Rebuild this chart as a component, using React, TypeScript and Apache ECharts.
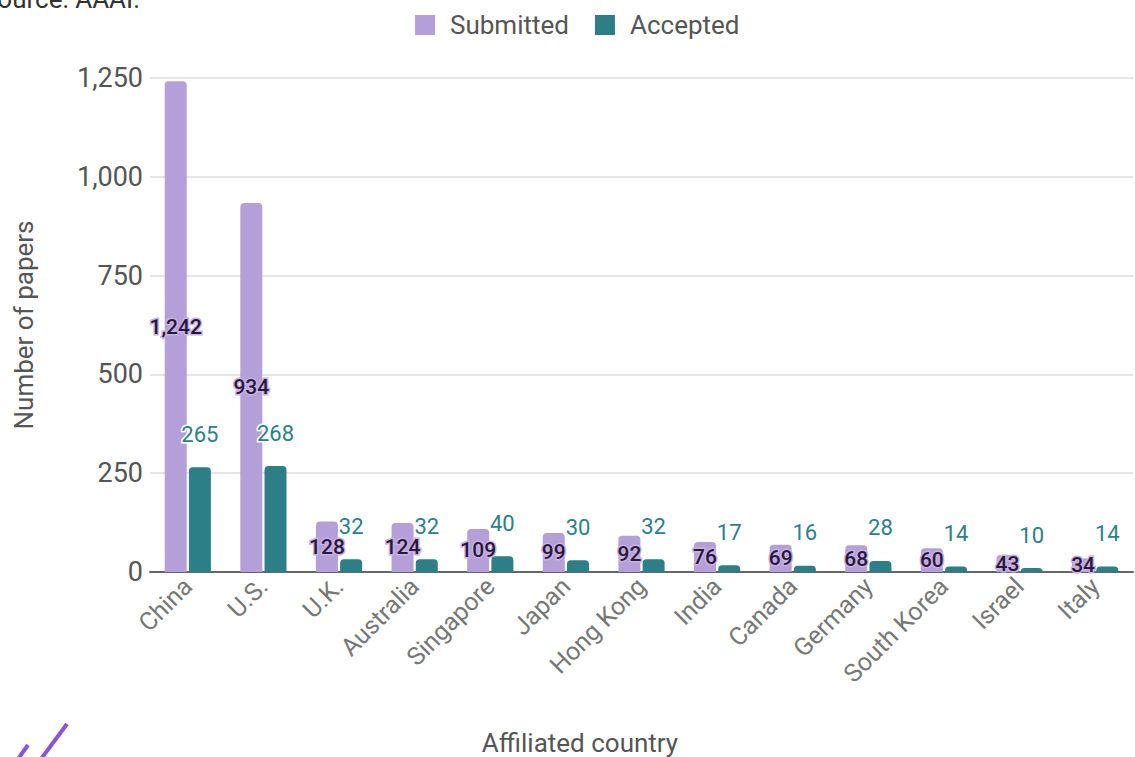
import React, { useEffect, useRef } from "react";
import * as echarts from "echarts";

const categories = ["China", "U.S.", "U.K.", "Australia", "Singapore", "Japan", "Hong Kong", "India", "Canada", "Germany", "South Korea", "Israel", "Italy"];
const submitted = [1242, 934, 128, 124, 109, 99, 92, 76, 69, 68, 60, 43, 34];
const accepted = [265, 268, 32, 32, 40, 30, 32, 17, 16, 28, 14, 10, 14];
const yTicks = [0, 250, 500, 750, 1000, 1250];

const FONT = "Roboto, 'Noto Sans', sans-serif";
const fmt = (v: number) => v.toLocaleString("en-US");

export default function App() {
  const ref = useRef<HTMLDivElement>(null);
  useEffect(() => {
    if (!ref.current) return;
    const chart = echarts.init(ref.current, null, { renderer: "svg" });
    chart.setOption({
      animation: false,
      backgroundColor: "#ffffff",
      textStyle: { fontFamily: FONT },
      legend: {
        top: 7,
        left: 410,
        itemWidth: 20,
        itemHeight: 20,
        itemGap: 26,
        icon: "rect",
        textStyle: { fontSize: 26, color: "#555", fontFamily: FONT, padding: [0, 0, 0, 10] },
        data: ["Submitted", "Accepted"],
      },
      grid: { left: 150, right: 2, top: 78, bottom: 185 },
      xAxis: {
        type: "category",
        data: categories,
        axisLine: { lineStyle: { color: "#666", width: 2 } },
        axisTick: { show: false },
        axisLabel: { rotate: 45, fontSize: 25, color: "#777", margin: 10, fontFamily: FONT },
      },
      yAxis: {
        type: "value",
        min: yTicks[0],
        max: yTicks[yTicks.length - 1],
        interval: 250,
        name: "Number of papers",
        nameLocation: "middle",
        nameGap: 113,
        nameTextStyle: { fontSize: 26, color: "#555", fontFamily: FONT },
        axisLine: { show: false },
        axisTick: { show: false },
        splitLine: { lineStyle: { color: "#dcdcdc", width: 1.5 } },
        axisLabel: { fontSize: 27, color: "#555", margin: 7, formatter: (v: number) => fmt(v), fontFamily: FONT },
      },
      series: [
        {
          name: "Submitted",
          type: "bar",
          data: submitted,
          barWidth: 22,
          barGap: "10%",
          itemStyle: { color: "#b49fd8", borderRadius: [4, 4, 0, 0] },
          label: {
            show: true,
            position: "inside",
            formatter: (p: any) => fmt(p.value),
            fontSize: 21,
            fontWeight: 500,
            color: "#2a1838",
            textBorderColor: "#c7b2e6",
            textBorderWidth: 3,
            fontFamily: FONT,
          },
        },
        {
          name: "Accepted",
          type: "bar",
          data: accepted,
          barWidth: 22,
          itemStyle: { color: "#2c7f87", borderRadius: [4, 4, 0, 0] },
          label: {
            show: true,
            position: "top",
            distance: 22,
            formatter: (p: any) => fmt(p.value),
            fontSize: 22,
            color: "#2b8089",
            textBorderColor: "#ffffff",
            textBorderWidth: 3,
            fontFamily: FONT,
          },
        },
      ],
      graphic: [
        {
          type: "text",
          x: 140,
          y: 12,
          style: { text: "Source: AAAI.", fontSize: 26, fill: "#333", textAlign: "right", textVerticalAlign: "bottom", fontFamily: FONT },
        },
        {
          type: "text",
          x: 580,
          y: 743,
          style: { text: "Affiliated country", fontSize: 26, fill: "#555", textAlign: "center", textVerticalAlign: "middle", fontFamily: FONT },
        },
        {
          type: "line",
          shape: { x1: 18, y1: 759, x2: 28, y2: 745 },
          style: { stroke: "#8b55d9", lineWidth: 4 },
        },
        {
          type: "line",
          shape: { x1: 41, y1: 759, x2: 67, y2: 724 },
          style: { stroke: "#8b55d9", lineWidth: 4 },
        },
      ],
    });
    return () => chart.dispose();
  }, []);
  return <div ref={ref} style={{ position: "fixed", left: 0, top: 0, width: 1135, height: 757 }} />;
}
